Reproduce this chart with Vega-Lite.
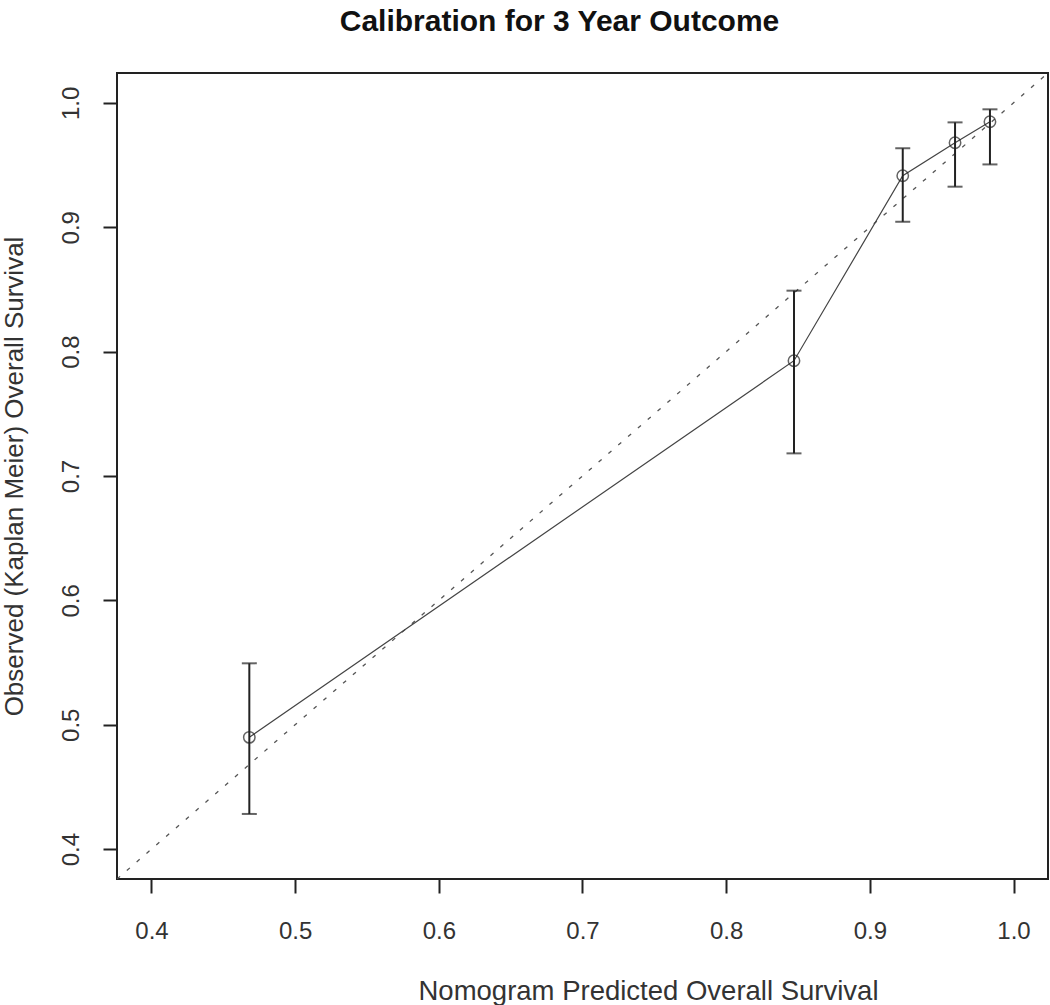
{
  "$schema": "https://vega.github.io/schema/vega-lite/v6.json",
  "autosize": "none",
  "width": 931,
  "height": 806,
  "padding": {"left": 117, "top": 73, "right": 2, "bottom": 126},
  "background": "white",
  "config": {
    "view": {"stroke": "#222", "strokeWidth": 2},
    "font": "Liberation Sans",
    "axis": {
      "grid": false,
      "domain": false,
      "tickColor": "#222",
      "tickWidth": 2,
      "tickSize": 14,
      "labelFont": "Liberation Sans",
      "labelFontSize": 24,
      "labelColor": "#333",
      "titleFont": "Liberation Sans",
      "titleFontWeight": "normal",
      "titleColor": "#333"
    }
  },
  "title": {
    "text": "Calibration for 3 Year Outcome",
    "font": "Liberation Sans",
    "fontSize": 30,
    "fontWeight": "bold",
    "color": "#111",
    "anchor": "middle",
    "dx": -23,
    "offset": 36
  },
  "datasets": {
    "cal": [
      {"pred": 0.4681, "obs": 0.4899, "lo": 0.4283, "hi": 0.5494},
      {"pred": 0.8472, "obs": 0.7927, "lo": 0.7182, "hi": 0.849},
      {"pred": 0.9229, "obs": 0.9414, "lo": 0.9044, "hi": 0.9635},
      {"pred": 0.9593, "obs": 0.9679, "lo": 0.9326, "hi": 0.9843},
      {"pred": 0.9836, "obs": 0.9848, "lo": 0.9505, "hi": 0.9948}
    ],
    "ideal": [
      {"p": 0.376},
      {"p": 1.024}
    ]
  },
  "layer": [
    {
      "data": {"name": "ideal"},
      "mark": {"type": "line", "color": "#555", "strokeWidth": 1.3, "strokeDash": [4, 9], "clip": true},
      "encoding": {
        "x": {"field": "p", "type": "quantitative",
          "scale": {"domain": [0.376, 1.024], "nice": false, "zero": false},
          "axis": {"values": [0.4, 0.5, 0.6, 0.7, 0.8, 0.9, 1.0], "format": ".1f",
            "title": "Nomogram Predicted  Overall Survival",
            "titleFontSize": 27.5,
            "labelPadding": 26,
            "titleX": 531, "titleY": 120, "titleBaseline": "alphabetic", "titleAnchor": null}},
        "y": {"field": "p", "type": "quantitative",
          "scale": {"domain": [0.376, 1.024], "nice": false, "zero": false},
          "axis": {"values": [0.4, 0.5, 0.6, 0.7, 0.8, 0.9, 1.0], "format": ".1f",
            "title": "Observed (Kaplan Meier) Overall Survival",
            "titleFontSize": 26,
            "labelAngle": -90, "labelAlign": "center", "labelBaseline": "bottom", "labelPadding": 20,
            "titleX": -95, "titleBaseline": "alphabetic"}}
      }
    },
    {
      "data": {"name": "cal"},
      "mark": {"type": "line", "color": "#444", "strokeWidth": 1.2},
      "encoding": {
        "x": {"field": "pred", "type": "quantitative"},
        "y": {"field": "obs", "type": "quantitative"}
      }
    },
    {
      "data": {"name": "cal"},
      "mark": {"type": "rule", "color": "#222", "strokeWidth": 2},
      "encoding": {
        "x": {"field": "pred", "type": "quantitative"},
        "y": {"field": "lo", "type": "quantitative"},
        "y2": {"field": "hi"}
      }
    },
    {
      "data": {"name": "cal"},
      "mark": {"type": "tick", "orient": "horizontal", "color": "#222", "size": 15, "thickness": 2},
      "encoding": {
        "x": {"field": "pred", "type": "quantitative"},
        "y": {"field": "lo", "type": "quantitative"}
      }
    },
    {
      "data": {"name": "cal"},
      "mark": {"type": "tick", "orient": "horizontal", "color": "#222", "size": 15, "thickness": 2},
      "encoding": {
        "x": {"field": "pred", "type": "quantitative"},
        "y": {"field": "hi", "type": "quantitative"}
      }
    },
    {
      "data": {"name": "cal"},
      "mark": {"type": "point", "shape": "circle", "filled": false, "color": "#222", "size": 130, "strokeWidth": 1.5},
      "encoding": {
        "x": {"field": "pred", "type": "quantitative"},
        "y": {"field": "obs", "type": "quantitative"}
      }
    }
  ]
}
